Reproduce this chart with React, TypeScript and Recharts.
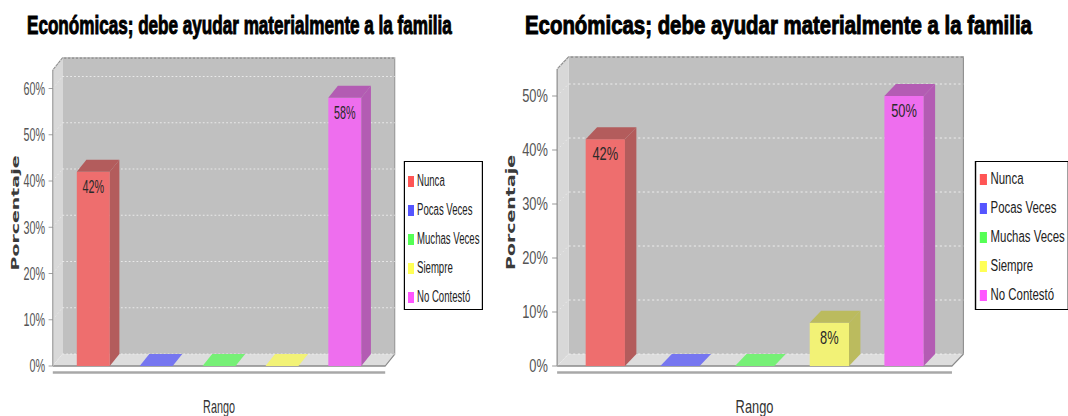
import React from "react";
import { Bar, BarChart, CartesianGrid, Label, LabelList, Legend, ReferenceArea, XAxis, YAxis } from "recharts";

const categories = ["Nunca", "Pocas Veces", "Muchas Veces", "Siempre", "No Contestó"];
const leftValues = [42, 0, 0, 0, 58];
const rightValues = [42, 0, 0, 8, 50];
const leftTicks = [0, 10, 20, 30, 40, 50, 60];
const rightTicks = [0, 10, 20, 30, 40, 50];
const titleText = "Económicas; debe ayudar materialmente a la familia";
const yTitle = "Porcentaje";
const xTitle = "Rango";

const FRONT = ["#EE6E6E", "#7676F0", "#76F076", "#F2F276", "#EE6EEE"];
const SIDE = ["#B35C5C", "#5C5CB3", "#5CB35C", "#BBBB5E", "#B35CB3"];
const KEY = ["#FF5555", "#5555FF", "#55FF55", "#FFFF55", "#FF55FF"];

const FONT = '"Liberation Sans", Arial, sans-serif';
const DX = 16;
const DY = 12;
const PAD = 15;

interface Panel {
  values: number[];
  ticks: number[];
  max: number;
  sx: number;
  left: number;
  width: number;
  plotLeft: number;
  plotRight: number;
  plotTop: number;
  legendLeft: number;
  legendTop: number;
  titleX: number;
  titleLen: number;
  yTitleX: number;
}

const panels: Panel[] = [
  { values: leftValues, ticks: leftTicks, max: 64, sx: 0.6, left: 0, width: 816, plotLeft: 88, plotRight: 642, plotTop: 70, legendLeft: 673, legendTop: 19, titleX: 45, titleLen: 708, yTitleX: 25 },
  { values: rightValues, ticks: rightTicks, max: 55, sx: 0.714, left: 490, width: 810, plotLeft: 94, plotRight: 647, plotTop: 69, legendLeft: 679, legendTop: 17, titleX: 49, titleLen: 710, yTitleX: 29 },
];

function Walls(p: any) {
  const x0 = p.x - PAD;
  const x1 = p.x + p.width + PAD;
  const y0 = p.y;
  const y1 = p.y + p.height;
  return (
    <g>
      <rect x={x0 + DX} y={y0 - DY} width={x1 - x0} height={y1 - y0} fill="#C0C0C0" />
      <polygon points={`${x0},${y0} ${x0 + DX},${y0 - DY} ${x0 + DX},${y1 - DY} ${x0},${y1}`} fill="#D8D8D8" />
      <polygon points={`${x0},${y1} ${x0 + DX},${y1 - DY} ${x1 + DX},${y1 - DY} ${x1},${y1}`} fill="#DDDDDD" />
      <polyline
        points={`${x0},${y0} ${x0 + DX},${y0 - DY} ${x1 + DX},${y0 - DY} ${x1 + DX},${y1 - DY} ${x1},${y1} ${x0},${y1}`}
        fill="none"
        stroke="#8A8A8A"
        strokeWidth={1.5}
      />
      <line x1={x0} x2={x1} y1={y1 + 6.5} y2={y1 + 6.5} stroke="#A8A8A8" strokeWidth={2.5} />
    </g>
  );
}

const gridLine = (p: any) => (
  <g key={`grid-${p.index}-${p.y1}`}>
    <line x1={p.x1} y1={p.y1} x2={p.x1 + DX} y2={p.y1 - DY} stroke="#EAEAEA" strokeDasharray="2 3" />
    <line x1={p.x1 + DX} y1={p.y1 - DY} x2={p.x2 + DX} y2={p.y2 - DY} stroke="#F4F4F4" strokeDasharray="3 3.5" />
  </g>
);

function Bar3D(p: any) {
  const { x, y, width: w, height: h } = p;
  const i = typeof p.index === "number" ? p.index : categories.indexOf(p.payload?.name);
  const top = `${x},${y} ${x + DX},${y - DY} ${x + w + DX},${y - DY} ${x + w},${y}`;
  if (!h) return <polygon points={top} fill={FRONT[i]} />;
  return (
    <g>
      <rect x={x} y={y} width={w} height={h} fill={FRONT[i]} />
      <polygon points={`${x + w},${y} ${x + w + DX},${y - DY} ${x + w + DX},${y + h - DY} ${x + w},${y + h}`} fill={SIDE[i]} />
      <polygon points={top} fill={SIDE[i]} />
    </g>
  );
}

function BarValue(p: any) {
  if (!p.value) return null;
  return (
    <text x={p.x + p.width / 2} y={p.y + 21} textAnchor="middle" fontFamily={FONT} fontSize={18} fill="#2a2a2a">
      {`${p.value}%`}
    </text>
  );
}

function LegendBox({ top }: { top: number }) {
  return (
    <div
      style={{
        position: "relative",
        boxSizing: "border-box",
        width: 132,
        height: 149,
        background: "#fff",
        border: "1px solid #000",
        borderLeftWidth: 2,
        borderRightWidth: 2,
        fontFamily: FONT,
        fontSize: 16,
        color: "#222",
      }}
    >
      {categories.map((c, i) => (
        <div key={c} style={{ position: "absolute", left: 5, top: top + 29 * i - 9, height: 18, display: "flex", alignItems: "center", whiteSpace: "nowrap" }}>
          <span style={{ display: "inline-block", width: 10, height: 11, background: KEY[i] }} />
          <span style={{ marginLeft: 5 }}>{c}</span>
        </div>
      ))}
    </div>
  );
}

function Chart3D({ panel }: { panel: Panel }) {
  const rows = categories.map((name, i) => ({ name, value: panel.values[i] }));
  return (
    <div
      style={{
        position: "absolute",
        left: panel.left,
        top: 0,
        width: panel.width,
        height: 416,
        transform: `scaleX(${panel.sx})`,
        transformOrigin: "0 0",
      }}
    >
      <svg width={panel.width} height={50} style={{ position: "absolute", left: 0, top: 0 }}>
        <text
          x={panel.titleX}
          y={34}
          textLength={panel.titleLen}
          lengthAdjust="spacingAndGlyphs"
          fontFamily={FONT}
          fontWeight="bold"
          fontSize={26}
          fill="#000"
          stroke="#000"
          strokeWidth={1}
        >
          {titleText}
        </text>
      </svg>
      <div style={{ position: "absolute", left: 0, top: 0 }}>
        <BarChart
          width={panel.width}
          height={416}
          data={rows}
          margin={{ top: panel.plotTop, right: panel.width - panel.plotRight, bottom: 0, left: 0 }}
        >
          <ReferenceArea y1={0} y2={panel.max} shape={Walls} zIndex={-200} />
          <CartesianGrid vertical={false} horizontal={gridLine} />
          <XAxis dataKey="name" tick={false} tickLine={false} axisLine={false} height={50} padding={{ left: PAD, right: PAD }}>
            <Label
              content={(p: any) => (
                <text x={p.viewBox.x + p.viewBox.width / 2} y={p.viewBox.y + 47} textAnchor="middle" fontFamily={FONT} fontSize={18} fill="#333">
                  {xTitle}
                </text>
              )}
            />
          </XAxis>
          <YAxis
            domain={[0, panel.max]}
            ticks={panel.ticks}
            tickFormatter={(v: number) => `${v}%`}
            width={panel.plotLeft}
            tick={{ fill: "#555", fontSize: 18, fontFamily: FONT }}
            tickSize={7}
            tickMargin={6}
            axisLine={{ stroke: "#888", strokeWidth: 1.6 }}
            tickLine={{ stroke: "#888" }}
          >
            <Label
              content={(p: any) => {
                const cx = panel.yTitleX;
                const cy = p.viewBox.y + p.viewBox.height / 2 - 5;
                return (
                  <text
                    x={cx}
                    y={cy}
                    transform={`rotate(-90 ${cx} ${cy})`}
                    textAnchor="middle"
                    dominantBaseline="central"
                    fontFamily='"DejaVu Sans", sans-serif'
                    fontWeight="bold"
                    fontSize={18}
                    fill="#3a3a3a"
                    textLength={115}
                    lengthAdjust="spacingAndGlyphs"
                  >
                    {yTitle}
                  </text>
                );
              }}
            />
          </YAxis>
          <Bar dataKey="value" barSize={55} shape={Bar3D} isAnimationActive={false}>
            <LabelList dataKey="value" content={BarValue} />
          </Bar>
          <Legend
            layout="horizontal"
            align="center"
            verticalAlign="middle"
            wrapperStyle={{ left: panel.legendLeft, top: 161, width: 132, height: 149 }}
            content={() => <LegendBox top={panel.legendTop} />}
          />
        </BarChart>
      </div>
    </div>
  );
}

export default function App() {
  return (
    <div style={{ position: "absolute", left: 0, top: 0, width: 1068, height: 416, background: "#fff", overflow: "hidden" }}>
      {panels.map((p, i) => (
        <Chart3D key={i} panel={p} />
      ))}
    </div>
  );
}
